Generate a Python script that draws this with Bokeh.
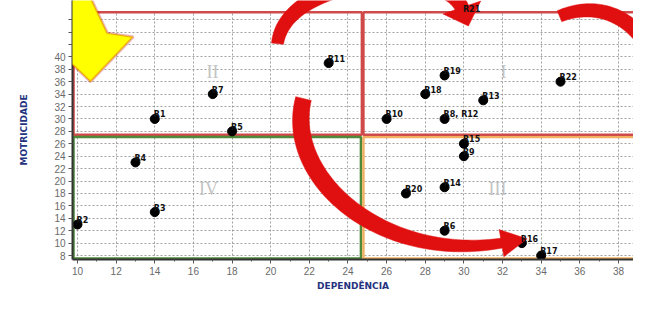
import numpy as np
from bokeh.plotting import figure
from bokeh.models import Range1d, FixedTicker, ColumnDataSource, PolyAnnotation, Label
from bokeh.core.properties import value
from bokeh.embed import file_html
from bokeh.resources import INLINE

# ---------------- data ----------------
point_labels = ["R1", "R2", "R3", "R4", "R5", "R6", "R7", "R8, R12", "R9", "R10",
                "R11", "R13", "R14", "R15", "R16", "R17", "R18", "R19", "R20", "R21", "R22"]
dependencia = [14, 10, 14, 13, 18, 29, 17, 29, 30, 26, 23, 31, 29, 30, 33, 34, 28, 29, 27, 30, 35]
motricidade = [30, 13, 15, 23, 28, 12, 34, 30, 24, 30, 39, 33, 19, 26, 10, 8, 34, 37, 18, 47, 36]
x_ticks = list(range(10, 41, 2))
y_ticks = list(range(8, 47, 2))
hidden_y_labels = [42, 44, 46]   # covered by the yellow arrow in the original
quadrant_names = ["I", "II", "III", "IV"]


# canvas-pixel -> data helpers (for decorations only)
def dx(px):
    return 10 + (np.asarray(px, float) - 77) / 19.32


def dy(py):
    return 8 + (260 - np.asarray(py, float)) / 6.33


p = figure(width=633, height=293, output_backend="svg", toolbar_location=None,
           x_range=Range1d(float(dx(72)), float(dx(633))),
           y_range=Range1d(float(dy(264)), float(dy(0))),
           min_border_left=72, min_border_right=0, min_border_top=0, min_border_bottom=29)
p.outline_line_color = None
p.background_fill_color = "white"

# axes
for ax in (p.xaxis[0], p.yaxis[0]):
    ax.major_label_text_font = "Liberation Sans"
    ax.major_label_text_font_size = "10px"
    ax.major_label_text_color = "#6a6a6a"
    ax.axis_line_color = "#333333"
    ax.axis_line_width = 2
    ax.major_tick_line_color = "#555555"
    ax.minor_tick_line_color = "#555555"
    ax.major_tick_out = 4
    ax.major_tick_in = 0
    ax.minor_tick_out = 2
    ax.minor_tick_in = 0
    ax.axis_label_text_font = "DejaVu Sans"
    ax.axis_label_text_font_style = "bold"
    ax.axis_label_text_font_size = "9px"
    ax.axis_label_text_color = "#25337f"
    ax.major_label_standoff = 3

p.xaxis.ticker = FixedTicker(ticks=x_ticks, minor_ticks=list(range(10, 41)))
p.yaxis.ticker = FixedTicker(ticks=y_ticks)
p.yaxis.major_label_overrides = {v: "" for v in hidden_y_labels}
p.xaxis.axis_label = "DEPENDÊNCIA"
p.yaxis.axis_label = "MOTRICIDADE"
p.xaxis.axis_label_standoff = 3
p.yaxis.axis_label_standoff = 22

p.grid.grid_line_color = "#8a8a8a"
p.grid.grid_line_dash = "2 2"
p.grid.grid_line_alpha = 0.8

# white band above the top box line (grid stops at the box)
p.quad(left=[float(dx(74))], right=[45], top=[60], bottom=[float(dy(11))],
       fill_color="white", line_color=None)

# quadrant boxes
xs_split, ys_split = 24.75, 27.3
top_y, bot_y, left_x = float(dy(12)), float(dy(263)), float(dx(73))
p.quad(left=[left_x], right=[xs_split - 0.03], top=[top_y], bottom=[ys_split + 0.15],
       fill_color=None, line_color="#d04a4a", line_width=2.5)
p.quad(left=[left_x], right=[xs_split - 0.08], top=[ys_split - 0.2], bottom=[bot_y],
       fill_color=None, line_color="#4e8a3a", line_width=2.5)
p.quad(left=[xs_split + 0.05], right=[41.5], top=[ys_split - 0.2], bottom=[bot_y],
       fill_color=None, line_color="#f0b060", line_width=2.5)
p.quad(left=[xs_split + 0.05], right=[41.5], top=[top_y], bottom=[ys_split + 0.15],
       fill_color=None, line_color="#d04a4a", line_width=2.5)

# quadrant numerals
numeral_pos = {"I": (503, 73), "II": (212, 73), "III": (497, 192), "IV": (208, 192)}
for q in quadrant_names:
    px, py = numeral_pos[q]
    p.add_layout(Label(x=float(dx(px)), y=float(dy(py)), text=q, text_font="Liberation Serif",
                       text_font_size="18px", text_color="#c4c4c4", text_align="center",
                       text_baseline="middle"))

# points
src = ColumnDataSource(dict(x=dependencia, y=motricidade, label=point_labels))
p.scatter("x", "y", source=src, size=9, color="black")


# decorative red curved arrows
def bez(P, t):
    P = np.array(P, float)
    t = t[:, None]
    pts = (1 - t) ** 3 * P[0] + 3 * (1 - t) ** 2 * t * P[1] + 3 * (1 - t) * t ** 2 * P[2] + t ** 3 * P[3]
    der = 3 * (1 - t) ** 2 * (P[1] - P[0]) + 6 * (1 - t) * t * (P[2] - P[1]) + 3 * t ** 2 * (P[3] - P[2])
    return pts, der


def thick_arrow(P, w0, w1, bump, head_w=None, head_l=None):
    t = np.linspace(0, 1, 80)
    pts, der = bez(P, t)
    u = der / np.linalg.norm(der, axis=1)[:, None]
    n = np.stack([-u[:, 1], u[:, 0]], axis=1)
    w = (w0 * (1 - t) + w1 * t + bump * np.sin(np.pi * t))[:, None]
    left = pts + n * w
    right = pts - n * w
    body = np.vstack([left, right[::-1]])
    head = None
    if head_w:
        end = pts[-1] - u[-1] * 2
        head = np.array([end + n[-1] * head_w, pts[-1] + u[-1] * head_l, end - n[-1] * head_w])
    return body, head


RED = "#e01010"
arrows = [
    ([(277, 44), (285, -25), (445, -40), (462, 9)], 6, 7, 2, 20, 18),
    ([(303, 100), (283, 180), (380, 268), (503, 247)], 8, 5, 2, 14, 24),
    ([(559, 16), (610, -5), (660, 30), (665, 110)], 6, 7, 1, None, None),
]
for P, w0, w1, bump, hw, hl in arrows:
    body, head = thick_arrow(P, w0, w1, bump, hw, hl)
    p.patch(dx(body[:, 0]), dy(body[:, 1]), fill_color=RED, line_color=RED, line_width=0.5)
    if head is not None:
        p.patch(dx(head[:, 0]), dy(head[:, 1]), fill_color=RED, line_color=RED, line_width=0.5)

# point labels (on top of the decorations)
p.text("x", "y", text="label", source=src, text_font=value("DejaVu Sans"), text_font_style="bold",
       text_font_size="8px", text_color="#111111", x_offset=-1, y_offset=-4,
       text_baseline="alphabetic", text_align="left")

# yellow block arrow
yx = [40, 87, 107, 133, 90, 31, 55]
yy = [-10, -10, 33, 37, 83, 26, 27]
p.add_layout(PolyAnnotation(xs=list(map(float, dx(yx))), ys=list(map(float, dy(yy))),
                            fill_color="#ffff00", fill_alpha=1.0, line_color="#c00000",
                            line_width=2.5, level="overlay"))

open("out.html", "w").write(file_html(p, INLINE))
